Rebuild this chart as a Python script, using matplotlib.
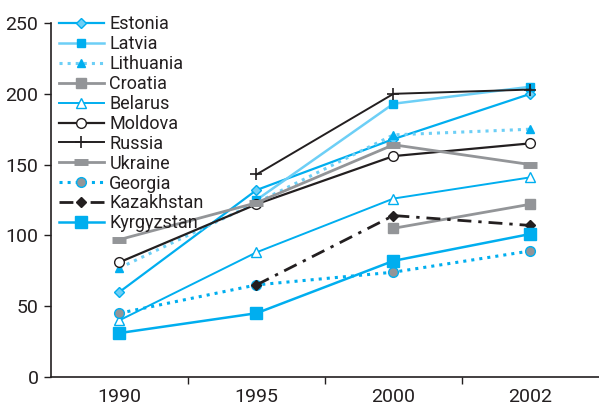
import numpy as np
import matplotlib
matplotlib.use("Agg")
import matplotlib.pyplot as plt

# data
years = ["1990", "1995", "2000", "2002"]
estonia = [60, 132, 168, 200]
latvia = [np.nan, 125, 193, 205]
lithuania = [77, 123, 171, 175]
croatia = [np.nan, np.nan, 105, 122]
belarus = [40, 88, 126, 141]
moldova = [81, 122, 156, 165]
russia = [np.nan, 143, 200, 203]
ukraine = [97, 123, 164, 150]
georgia = [45, 65, 74, 89]
kazakhstan = [np.nan, 65, 114, 107]
kyrgyzstan = [31, 45, 82, 101]

BLUE = "#00aeef"
LIGHT = "#6dcff6"
GREY = "#939598"
BLACK = "#231f20"

plt.rcParams["font.family"] = ["Roboto", "DejaVu Sans"]

fig = plt.figure(figsize=(5.99, 4.04), dpi=100)
ax = fig.add_axes([0.085, 0.067, 0.915, 0.876])
x = np.arange(len(years))

ax.plot(x, estonia, "-", color=BLUE, lw=1.6, marker="D", ms=5, mfc=LIGHT, mec=BLUE, label="Estonia")
ax.plot(x, latvia, "-", color=LIGHT, lw=1.8, marker="s", ms=6, mfc=BLUE, mec=BLUE, label="Latvia")
ax.plot(x, lithuania, ":", color=LIGHT, lw=2.2, marker="^", ms=6, mfc=BLUE, mec=BLUE, label="Lithuania")
ax.plot(x, croatia, "-", color=GREY, lw=2, marker="s", ms=7, mfc=GREY, mec=GREY, label="Croatia")
ax.plot(x, belarus, "-", color=BLUE, lw=1.4, marker="^", ms=7, mfc="white", mec=BLUE, label="Belarus")
ax.plot(x, moldova, "-", color=BLACK, lw=1.6, marker="o", ms=7, mfc="white", mec=BLACK, label="Moldova")
ax.plot(x, russia, "-", color=BLACK, lw=1.4, marker="+", ms=9, mew=1.2, mec=BLACK, label="Russia")
ax.plot(x, ukraine, "-", color=GREY, lw=2, marker="_", ms=10, mew=5, mec=GREY, label="Ukraine")
ax.plot(x, georgia, ":", color=BLUE, lw=2.2, marker="o", ms=7, mfc=GREY, mec=BLUE, label="Georgia")
ax.plot(x, kazakhstan, color=BLACK, lw=2, ls=(0, (5, 2.5, 1.2, 2.5)), marker="D", ms=5, mfc=BLACK, mec=BLACK, label="Kazakhstan")
ax.plot(x, kyrgyzstan, "-", color=BLUE, lw=1.8, marker="s", ms=8, mfc=BLUE, mec=BLUE, label="Kyrgyzstan")

ax.set_xlim(-0.5, 3.5)
ax.set_ylim(0, 250)
ax.set_yticks(range(0, 251, 50))
ax.set_xticks(x)
ax.set_xticklabels(years)
ax.set_xticks([0.5, 1.5, 2.5], minor=True)
ax.tick_params(axis="x", which="major", length=0, pad=8, labelsize=14, colors=BLACK)
ax.tick_params(axis="x", which="minor", length=5, width=1, color=BLACK)
ax.tick_params(axis="y", length=5, width=1, labelsize=14, colors=BLACK, pad=4)
for s in ["top", "right"]:
    ax.spines[s].set_visible(False)
for s in ["left", "bottom"]:
    ax.spines[s].set_color(BLACK)
    ax.spines[s].set_linewidth(1.2)

ax.legend(loc="upper left", bbox_to_anchor=(0.098, 0.962), bbox_transform=fig.transFigure,
          frameon=False, fontsize=13, handlelength=2.5, handletextpad=0.3,
          labelspacing=0.105, borderpad=0, borderaxespad=0, labelcolor=BLACK)

fig.savefig("out.png", dpi=100)
